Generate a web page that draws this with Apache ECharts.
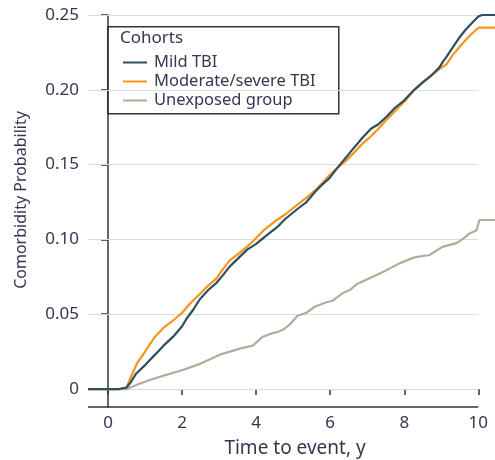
<!DOCTYPE html>
<html>
<head>
<meta charset="utf-8">
<script src="https://cdn.jsdelivr.net/npm/echarts@6/dist/echarts.min.js"></script>
<style>
html,body{margin:0;padding:0;background:#fff;}
#chart{width:495px;height:460px;}
</style>
</head>
<body>
<div id="chart"></div>
<script>
const seriesNames = ['Mild TBI', 'Moderate/severe TBI', 'Unexposed group'];
const xTicks = [0, 2, 4, 6, 8, 10];
const yTicks = [0, 0.05, 0.10, 0.15, 0.20, 0.25];

const mildTBI = [
  [-0.54,0],[0.0,0],[0.3,0],[0.5,0.001],[0.6,0.004],[0.75,0.010],[1.0,0.016],[1.27,0.023],
  [1.5,0.029],[1.76,0.035],[2.0,0.042],[2.12,0.047],[2.3,0.053],[2.48,0.060],[2.7,0.066],
  [2.93,0.071],[3.1,0.076],[3.29,0.082],[3.5,0.087],[3.75,0.093],[4.0,0.097],[4.15,0.100],
  [4.35,0.104],[4.56,0.108],[4.8,0.114],[5.0,0.118],[5.2,0.122],[5.36,0.125],[5.6,0.132],
  [5.8,0.137],[5.98,0.141],[6.2,0.148],[6.4,0.154],[6.6,0.160],[6.87,0.168],[7.1,0.174],
  [7.3,0.177],[7.52,0.182],[7.75,0.188],[8.0,0.193],[8.27,0.200],[8.5,0.205],[8.75,0.210],
  [8.95,0.215],[9.05,0.219],[9.14,0.222],[9.3,0.228],[9.49,0.235],[9.65,0.240],[9.84,0.245],
  [10.0,0.249],[10.1,0.250],[10.45,0.250]
];
const moderateSevereTBI = [
  [-0.54,0],[0.3,0],[0.5,0.001],[0.6,0.007],[0.78,0.017],[1.0,0.025],[1.27,0.035],[1.5,0.041],
  [1.72,0.045],[2.0,0.051],[2.21,0.057],[2.5,0.064],[2.7,0.069],[2.93,0.074],[3.1,0.080],
  [3.29,0.086],[3.5,0.090],[3.75,0.095],[3.96,0.100],[4.2,0.106],[4.56,0.113],[4.8,0.117],
  [5.1,0.123],[5.36,0.128],[5.6,0.133],[5.8,0.138],[5.98,0.143],[6.2,0.148],[6.4,0.152],
  [6.6,0.157],[6.87,0.164],[7.06,0.168],[7.3,0.174],[7.52,0.180],[7.8,0.187],[8.0,0.192],
  [8.27,0.200],[8.5,0.205],[8.75,0.210],[8.95,0.214],[9.14,0.217],[9.3,0.223],[9.57,0.231],
  [9.8,0.237],[10.0,0.2415],[10.45,0.2415]
];
const unexposedGroup = [
  [-0.54,0],[0.5,0],[0.6,0.001],[0.8,0.003],[1.13,0.006],[1.5,0.009],[2.02,0.0127],[2.5,0.017],
  [3.02,0.023],[3.29,0.025],[3.56,0.027],[3.91,0.029],[4.18,0.035],[4.4,0.037],[4.56,0.038],
  [4.75,0.040],[4.9,0.043],[5.12,0.049],[5.36,0.051],[5.58,0.055],[5.9,0.058],[6.06,0.059],
  [6.33,0.064],[6.52,0.066],[6.71,0.070],[7.06,0.074],[7.41,0.078],[7.87,0.084],[8.27,0.088],
  [8.68,0.0896],[9.03,0.095],[9.41,0.0975],[9.62,0.101],[9.76,0.104],[9.95,0.106],[10.03,0.113],
  [10.45,0.113]
];

const colors = ['#2e4f5e', '#f7941d', '#b5ab9c'];
const textColor = '#33384f';
const font = '"Noto Sans", sans-serif';
const xMin = -0.54, xEnd = 10, xMax = 10.45, yMin = -0.012, yMax = 0.25;

const gridLineData = yTicks.map(v => [{coord: [xMin, v]}, {coord: [xEnd, v]}]);
const xAxisLineData = [[{coord: [xMin, yMin]}, {coord: [xEnd, yMin]}]];

const chart = echarts.init(document.getElementById('chart'), null, {renderer: 'canvas'});
chart.setOption({
  animation: false,
  backgroundColor: '#ffffff',
  grid: {left: 88, right: 0, top: 15, bottom: 53, containLabel: false},
  xAxis: {
    type: 'value', min: xMin, max: xMax,
    axisLine: {show: false},
    axisTick: {show: true, length: 6, customValues: xTicks, lineStyle: {color: '#333', width: 1.5}},
    axisLabel: {customValues: xTicks, color: textColor, fontSize: 17, fontFamily: font, margin: 8},
    splitLine: {show: false}
  },
  yAxis: {
    type: 'value', min: yMin, max: yMax,
    axisLine: {show: true, lineStyle: {color: '#333', width: 1.5}},
    axisTick: {show: true, length: 7, customValues: yTicks, lineStyle: {color: '#333', width: 1.5}},
    axisLabel: {customValues: yTicks, color: textColor, fontSize: 17, fontFamily: font, margin: 9,
      formatter: v => (Math.abs(v) < 1e-9 ? '0' : v.toFixed(2))},
    splitLine: {show: false}
  },
  legend: {
    orient: 'vertical', left: 118, top: 49,
    itemWidth: 24, itemHeight: 10, itemGap: 2,
    icon: 'path://M0,6 L24,6 L24,8 L0,8 Z',
    textStyle: {color: textColor, fontSize: 16.5, fontFamily: font, lineHeight: 17, padding: [0,0,0,2]},
    data: seriesNames
  },
  graphic: [
    {type: 'rect', left: 107, top: 26, shape: {width: 231, height: 87},
     style: {fill: '#fff', stroke: '#333', lineWidth: 1.5}, z: 0},
    {type: 'text', left: 120, top: 30, style: {text: 'Cohorts', fill: textColor, font: '17px ' + font}, z: 1},
    {type: 'text', x: 295, y: 449, style: {text: 'Time to event, y', fill: textColor, font: '19px ' + font,
      align: 'center', verticalAlign: 'middle'}},
    {type: 'text', x: 21, y: 200, rotation: Math.PI / 2, style: {text: 'Comorbidity Probability', fill: textColor,
      font: '16px ' + font, align: 'center', verticalAlign: 'middle'}}
  ],
  series: [
    {type: 'line', data: [], silent: true, z: 1,
     markLine: {silent: true, symbol: 'none', z: 1, label: {show: false},
       lineStyle: {color: '#dcdcdc', width: 1, type: 'solid'}, data: gridLineData}},
    {name: seriesNames[2], type: 'line', data: unexposedGroup, showSymbol: false, clip: false, z: 3,
     lineStyle: {color: colors[2], width: 2.2}, itemStyle: {color: colors[2]}},
    {name: seriesNames[1], type: 'line', data: moderateSevereTBI, showSymbol: false, clip: false, z: 4,
     lineStyle: {color: colors[1], width: 2.2}, itemStyle: {color: colors[1]}},
    {name: seriesNames[0], type: 'line', data: mildTBI, showSymbol: false, clip: false, z: 5,
     lineStyle: {color: colors[0], width: 2.2}, itemStyle: {color: colors[0]}},
    {type: 'line', data: [], silent: true, z: 6,
     markLine: {silent: true, symbol: 'none', z: 6, label: {show: false},
       lineStyle: {color: '#333', width: 1.5, type: 'solid'}, data: xAxisLineData}}
  ]
});
</script>
</body>
</html>
